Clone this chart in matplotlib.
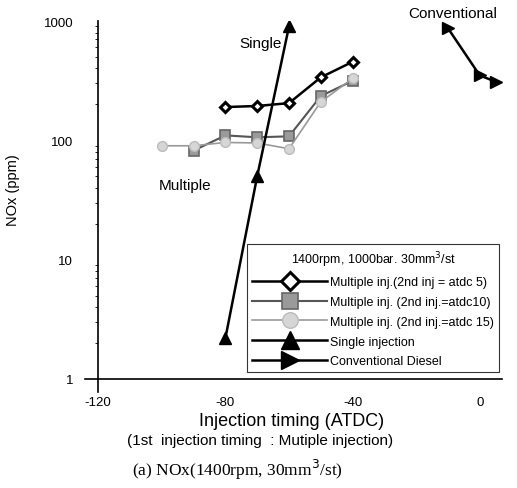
import matplotlib
matplotlib.use("Agg")

import matplotlib.pyplot as plt

plt.rcParams['font.family'] = ['Liberation Sans', 'DejaVu Sans']

# =====================================================
# Data
# =====================================================

multi5_x = [-80, -70, -60, -50, -40]
multi5_y = [190, 194, 205, 337, 455]

multi10_x = [-90, -80, -70, -60, -50, -40]
multi10_y = [82, 110, 106, 108, 235, 315]

multi15_x = [-100, -90, -80, -70, -60, -50, -40]
multi15_y = [90, 90, 96, 95, 85, 210, 330]

single_x = [-80, -70, -60]
single_y = [2.2, 50, 900]

conv_x = [-10, 0, 5]
conv_y = [870, 350, 310]

x_ticks = [-120, -80, -40, 0]
y_ticks = [1, 10, 100, 1000]

# =====================================================
# Figure
# =====================================================

fig = plt.figure(figsize=(5.17, 4.89), dpi=100)
ax = fig.add_axes([0.19, 0.223, 0.781, 0.732])

ax.plot(multi5_x, multi5_y, color="black", lw=1.8, marker="D", ms=5.5,
        mfc="white", mec="black", mew=2.2,
        label="Multiple inj.(2nd inj = atdc 5)")

ax.plot(multi10_x, multi10_y, color="#555555", lw=1.5, marker="s", ms=7,
        mfc="#9a9a9a", mec="#666666", mew=1.2,
        label="Multiple inj. (2nd inj.=atdc10)")

ax.plot(multi15_x, multi15_y, color="#999999", lw=1.2, marker="o", ms=7,
        mfc="#d6d6d6", mec="#bbbbbb", mew=1.0,
        label="Multiple inj. (2nd inj.=atdc 15)")

ax.plot(single_x, single_y, color="black", lw=1.8, marker="^", ms=8,
        mfc="black", mec="black",
        label="Single injection")

ax.plot(conv_x, conv_y, color="black", lw=1.8, marker=">", ms=8,
        mfc="black", mec="black",
        label="Conventional Diesel")

ax.set_yscale("log")
ax.set_xlim(-120, 7)
ax.set_ylim(1, 1000)

ax.set_xticks(x_ticks)
ax.set_xticklabels([str(v) for v in x_ticks])
ax.set_yticks(y_ticks)
ax.set_yticklabels([str(v) for v in y_ticks])

for side in ["top", "right"]:
    ax.spines[side].set_visible(False)
ax.spines["left"].set_linewidth(1.2)
ax.spines["bottom"].set_linewidth(1.2)

ax.tick_params(axis="both", which="major", length=0, labelsize=9.5)
ax.tick_params(axis="x", which="major", pad=12.5)
ax.tick_params(axis="y", which="major", pad=18)
ax.tick_params(axis="y", which="minor", direction="out", length=2, width=0.6)

# crossing of the axes at the origin
ax.plot([-0.032, 0], [0, 0], transform=ax.transAxes, color="black",
        lw=1.2, clip_on=False)
ax.plot([0, 0], [-0.036, 0], transform=ax.transAxes, color="black",
        lw=1.2, clip_on=False)

ax.set_ylabel("NOx (ppm)", fontsize=10.5)
ax.yaxis.set_label_coords(-0.193, 0.53)

fig.text(0.563, 0.138, "Injection timing (ATDC)", ha="center", va="center",
         fontsize=13)
fig.text(0.503, 0.098, "(1st  injection timing  : Mutiple injection)",
         ha="center", va="center", fontsize=11)

ax.text(-75.5, 600, "Single", fontsize=11)
ax.text(-22.5, 1080, "Conventional", fontsize=11)
ax.text(-101, 39, "Multiple", fontsize=11)

leg = ax.legend(loc="upper left", bbox_to_anchor=(0.478, 0.499),
                bbox_transform=fig.transFigure,
                title="1400rpm, 1000bar. 30mm$^3$/st",
                fontsize=9, title_fontsize=9,
                handlelength=6.0, markerscale=1.6,
                fancybox=False, edgecolor="black",
                borderpad=0.4, labelspacing=0.62, handletextpad=0.25,
                borderaxespad=0)
leg.get_frame().set_linewidth(0.8)

fig.text(0.46, 0.039, "(a) NOx(1400rpm, 30mm$^3$/st)", ha="center",
         va="center", fontsize=12.5, family="Liberation Serif")

fig.savefig("out.png", dpi=100)
